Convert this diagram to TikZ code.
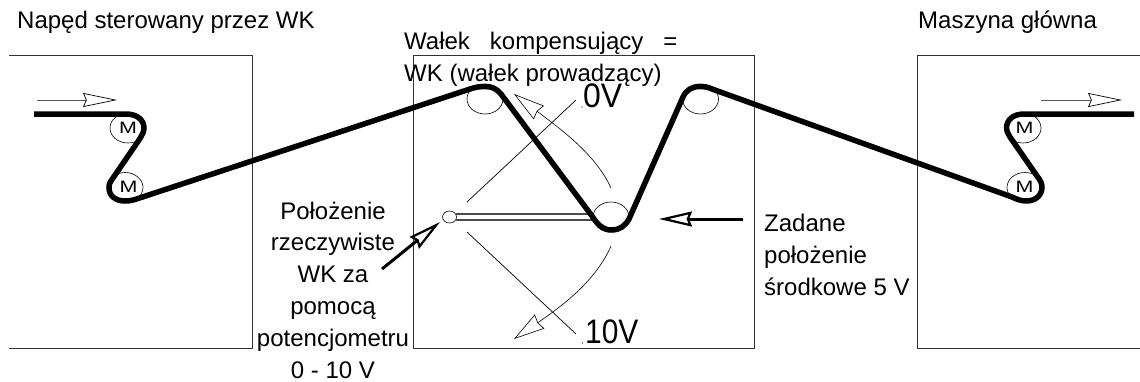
\documentclass[tikz,border=0pt]{standalone}
\usepackage{fontspec}
\setmainfont{Liberation Sans}
\usetikzlibrary{arrows.meta,shapes.geometric}
\tikzset{
  frameline/.style={draw=black!80,line width=0.9pt},
  belt/.style={draw=black,line width=5.5pt,line join=round},
  roller/.style={draw=black,ellipse,line width=0.6pt,minimum width=36pt,minimum height=30pt,inner sep=0pt},
  pivot/.style={draw=black,ellipse,line width=0.6pt,minimum width=14pt,minimum height=12pt,inner sep=0pt},
  motorlabel/.style={inner sep=0pt,font=\fontsize{16.5}{16.5}\selectfont},
  lbl/.style={anchor=base west,inner sep=0pt,font=\fontsize{24}{31.8}\selectfont},
  lblc/.style={anchor=base,inner sep=0pt,align=center,font=\fontsize{24}{31.8}\selectfont},
  lbll/.style={anchor=base west,inner sep=0pt,align=left,font=\fontsize{24}{32}\selectfont},
  bigv/.style={anchor=base west,inner sep=0pt,font=\fontsize{34}{34}\selectfont},
  radial/.style={draw=black,line width=0.7pt},
  rod/.style={draw=black!70,line width=1.1pt},
  swing/.style={draw=black,line width=0.6pt,-{Stealth[open,fill=white,length=31pt,width=17pt,inset=2pt]}},
  flow/.style={draw=black!65,line width=0.9pt,-{Stealth[open,fill=white,color=black,line width=0.7pt,length=34pt,width=14pt,inset=3pt]}},
  pointer/.style={draw=black,line width=3pt,-{Stealth[open,fill=white,line width=2.2pt,length=33pt,width=15pt,inset=3pt]}},
}
\begin{document}
\begin{tikzpicture}[x=1pt,y=-1pt]
\useasboundingbox (0,0) rectangle (1140,381);
% frames
\draw[frameline] (9,55.5) -- (252,55.5) -- (252,348.5) -- (9,348.5);
\draw[frameline] (413.5,55.5) rectangle (754.5,348.5);
\draw[frameline] (1140,55.5) -- (917,55.5) -- (917,348.5) -- (1140,348.5);
% rollers
\node[roller] (r1) at (128,128) {};
\node[roller] (r2) at (125,187.5) {};
\node[roller] (r3) at (485,99) {};
\node[roller] (r4) at (611,217) {};
\node[roller] (r5) at (700.5,99) {};
\node[roller] (r6) at (1025,187.5) {};
\node[roller] (r7) at (1023,128) {};
\node[motorlabel] (m1) at (128,128) {\scalebox{1.3}[1]{M}};
\node[motorlabel] (m2) at (128.5,187) {\scalebox{1.3}[1]{M}};
\node[motorlabel] (m3) at (1024.5,187) {\scalebox{1.3}[1]{M}};
\node[motorlabel] (m4) at (1024.5,128) {\scalebox{1.3}[1]{M}};
% lever
\node[pivot] (piv) at (449.5,217) {};
\coordinate (rodA1) at (456,214);
\coordinate (rodB1) at (593,214);
\coordinate (rodA2) at (456,220);
\coordinate (rodB2) at (595,220);
\draw[rod] (rodA1) -- (rodB1);
\draw[rod] (rodA2) -- (rodB2);
% radial lines
\coordinate (radU0) at (467,202);
\coordinate (radU1) at (576,100);
\coordinate (radL0) at (467,232);
\coordinate (radL1) at (576,334);
\draw[radial] (radU0) -- (radU1);
\draw[radial] (radL0) -- (radL1);
\fill (582,107) circle (0.6);
\fill (582.5,343) circle (0.6);
% swing arrows
\coordinate (swU0) at (611,188);
\coordinate (swU1) at (514,94);
\coordinate (swL0) at (611,246);
\coordinate (swL1) at (514,339);
\draw[swing] (swU0) .. controls (596,155) and (562,130) .. (swU1);
\draw[swing] (swL0) .. controls (596,280) and (565,304) .. (swL1);
% belt
\draw[belt] (34,114) -- (126,114)
  .. controls (137,114) and (144,120) .. (144,128)
  .. controls (144,132) and (142,135) .. (139,140)
  -- (113,178)
  .. controls (110,182) and (109,184) .. (109,188)
  .. controls (109,196) and (116,201) .. (125,201)
  .. controls (130,201) and (134,200) .. (138,198.5)
  -- (470,89)
  .. controls (476,87) and (480,86.5) .. (485,86.5)
  .. controls (492,86.5) and (497,89) .. (501,94)
  -- (592,216)
  .. controls (597,224) and (603,230) .. (611,230)
  .. controls (620,230) and (625,226) .. (629,219)
  -- (683,97)
  .. controls (686,90) and (692,86.5) .. (700,86.5)
  .. controls (704,86.5) and (708,87) .. (712,89)
  -- (1012,197)
  .. controls (1016,199) and (1021,201) .. (1026,201)
  .. controls (1036,201) and (1042,195) .. (1042,187)
  .. controls (1042,183) and (1040,180) .. (1037,176)
  -- (1010,137)
  .. controls (1007,132) and (1006.5,130) .. (1006.5,128)
  .. controls (1006.5,120) and (1013,114) .. (1024,114)
  -- (1134,114);
% flow arrows
\coordinate (flL0) at (37,100);
\coordinate (flL1) at (117,100);
\coordinate (flR0) at (1041,100);
\coordinate (flR1) at (1122,100);
\draw[flow] (flL0) -- (flL1);
\draw[flow] (flR0) -- (flR1);
% pointers
\coordinate (pL0) at (382,269);
\coordinate (pL1) at (440,222);
\coordinate (pR0) at (743,219);
\coordinate (pR1) at (659,219);
\draw[pointer] (pL0) -- (pL1);
\draw[pointer] (pR0) -- (pR1);
% labels
\node[lbl] (t1) at (17,28.5) {Napęd sterowany przez WK};
\node[lbl] (t2) at (918,28.5) {Maszyna główna};
\node[lbl] (t3) at (404,49) {Wałek~~~kompensujący~~~=};
\node[lbl] (t4) at (404,81) {WK (wałek prowadzący)};
\node[lblc] (t5) at (333,378) {Położenie\\rzeczywiste\\WK za\\pomocą\\potencjometru\\0 - 10 V};
\node[lbll] (t6) at (764,295) {Zadane\\położenie\\środkowe 5 V};
\node[bigv] (v0) at (583,107) {\scalebox{0.94}[1]{0V}};
\node[bigv] (v10) at (585,343) {\scalebox{0.88}[1]{10V}};
\end{tikzpicture}
\end{document}
